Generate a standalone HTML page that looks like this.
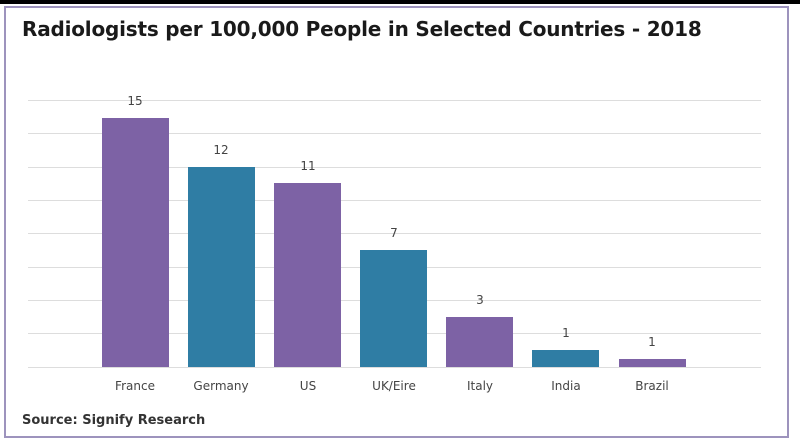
<!DOCTYPE html>
<html><head><style>
body{margin:0;width:800px;height:447px;background:#fff;overflow:hidden;position:relative;font-family:"DejaVu Sans","Liberation Sans",sans-serif}
.top{position:absolute;left:0;top:0;width:800px;height:4px;background:#000}
.frame{position:absolute;left:4px;top:6px;width:781px;height:428px;border:2px solid #9d93bd}
.title{position:absolute;left:22px;top:17px;font-size:20px;font-weight:bold;color:#1a1a1a;letter-spacing:-0.2px}
.src{position:absolute;left:22px;top:413px;font-size:13px;font-weight:bold;color:#333}
.g{position:absolute;left:28px;width:733px;height:1px;background:#ddd}
.b{position:absolute;width:67px}
.p{background:#7d62a5}.t{background:#2f7da4}
.v,.l{position:absolute;width:100px;text-align:center;font-size:12px;color:#444}
</style></head><body>
<div class="top"></div><div class="frame"></div>
<div class="title">Radiologists per 100,000 People in Selected Countries - 2018</div>
<div class="g" style="top:100px"></div><div class="g" style="top:133px"></div><div class="g" style="top:167px"></div><div class="g" style="top:200px"></div><div class="g" style="top:233px"></div><div class="g" style="top:267px"></div><div class="g" style="top:300px"></div><div class="g" style="top:333px"></div><div class="g" style="top:367px"></div>
<div class="b p" style="left:102px;top:118px;height:249px"></div>
<div class="b t" style="left:188px;top:167px;height:200px"></div>
<div class="b p" style="left:274px;top:183px;height:184px"></div>
<div class="b t" style="left:360px;top:250px;height:117px"></div>
<div class="b p" style="left:446px;top:317px;height:50px"></div>
<div class="b t" style="left:532px;top:350px;height:17px"></div>
<div class="b p" style="left:619px;top:359px;height:8px"></div>
<div class="v" style="left:85px;top:94px">15</div>
<div class="v" style="left:171px;top:143px">12</div>
<div class="v" style="left:258px;top:159px">11</div>
<div class="v" style="left:344px;top:226px">7</div>
<div class="v" style="left:430px;top:293px">3</div>
<div class="v" style="left:516px;top:326px">1</div>
<div class="v" style="left:602px;top:335px">1</div>
<div class="l" style="left:85px;top:379px">France</div>
<div class="l" style="left:171px;top:379px">Germany</div>
<div class="l" style="left:258px;top:379px">US</div>
<div class="l" style="left:344px;top:379px">UK/Eire</div>
<div class="l" style="left:430px;top:379px">Italy</div>
<div class="l" style="left:516px;top:379px">India</div>
<div class="l" style="left:602px;top:379px">Brazil</div>
<div class="src">Source: Signify Research</div>
</body></html>
